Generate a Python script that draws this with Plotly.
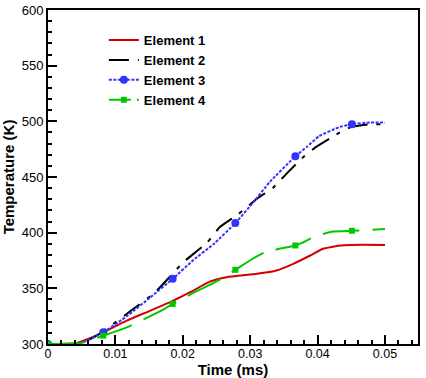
import plotly.graph_objects as go

# ---- data ----
names = ["Element 1", "Element 2", "Element 3", "Element 4"]

x1 = [0, 0.0041, 0.0063, 0.0082, 0.0117, 0.0152, 0.0186, 0.0211, 0.024, 0.0265,
      0.031, 0.0339, 0.0364, 0.0389, 0.0408, 0.0433, 0.045, 0.05]
y1 = [300, 300.6, 305.4, 310.5, 321, 330, 339, 346.5, 356, 360,
      363, 366, 372, 379.5, 385.5, 388.5, 389, 389]

x2 = [0, 0.0045, 0.0065, 0.0087, 0.0122, 0.0159, 0.0201, 0.0236, 0.0255, 0.0282,
      0.031, 0.0334, 0.0354, 0.0379, 0.0398, 0.0418, 0.0433, 0.045, 0.0478, 0.05]
y2 = [300, 300, 305, 313.5, 329.4, 346.5, 373.5, 391, 405, 416.4,
      430.5, 440.4, 453, 468, 477, 484.5, 490, 495, 497.4, 497.4]

x3 = [0, 0.0045, 0.0082, 0.0117, 0.0152, 0.0185, 0.0216, 0.0245, 0.0278, 0.0305,
      0.0329, 0.0367, 0.0384, 0.0402, 0.0433, 0.0451, 0.0478, 0.05]
y3 = [300, 300, 310.5, 325, 342, 358.5, 375.6, 389.4, 408.6, 427.5,
      445.5, 468.6, 477, 486.6, 495, 497.4, 499, 499]
mx3 = [0, 0.0082, 0.0185, 0.0278, 0.0367, 0.0451]
my3 = [300, 310.5, 358.5, 408.6, 468.6, 497.4]

x4 = [0, 0.005, 0.0082, 0.0117, 0.0166, 0.0185, 0.0211, 0.0255, 0.0278, 0.0302,
      0.0322, 0.0367, 0.0376, 0.0396, 0.0423, 0.0451, 0.05]
y4 = [300, 301, 307.5, 315, 329.4, 336, 344.4, 357.9, 366.6, 375.9,
      382.5, 388.5, 390.6, 396.6, 401, 401.7, 403.2]
mx4 = [0, 0.0082, 0.0185, 0.0278, 0.0367, 0.0451]
my4 = [300, 307.5, 336, 366.6, 388.5, 401.7]

x_ticks = [0, 0.01, 0.02, 0.03, 0.04, 0.05]
x_ticktext = ["0", "0.01", "0.02", "0.03", "0.04", "0.05"]
y_ticks = [300, 350, 400, 450, 500, 550, 600]

# ---- styles ----
RED = "#d40000"
BLACK = "#000000"
BLUE = "#3333ff"
GREEN = "#00c800"
FONT = "Liberation Sans, Arial, sans-serif"

dash2 = "20px,9px,4px,9px"
dash3 = "3px,1.5px"
dash4 = "37px,13px"

fig = go.Figure()

fig.add_trace(go.Scatter(x=x1, y=y1, mode="lines", name=f"<b>{names[0]}</b>",
                         line=dict(color=RED, width=2, shape="spline", smoothing=0.4),
                         legendrank=1))
fig.add_trace(go.Scatter(x=x2, y=y2, mode="lines", name=f"<b>{names[1]}</b>",
                         line=dict(color=BLACK, width=2, dash=dash2, shape="spline", smoothing=0.4),
                         legendrank=2))
# blue
fig.add_trace(go.Scatter(x=x3, y=y3, mode="lines", showlegend=False,
                         line=dict(color=BLUE, width=2, dash=dash3, shape="spline", smoothing=0.4)))
fig.add_trace(go.Scatter(x=mx3, y=my3, mode="markers", showlegend=False,
                         marker=dict(color=BLUE, size=8, symbol="circle")))
fig.add_trace(go.Scatter(x=[None], y=[None], mode="lines+markers", name=f"<b>{names[2]}</b>",
                         line=dict(color=BLUE, width=2, dash=dash3),
                         marker=dict(color=BLUE, size=8, symbol="circle"), legendrank=3))
# green
fig.add_trace(go.Scatter(x=x4, y=y4, mode="lines", showlegend=False,
                         line=dict(color=GREEN, width=2, dash=dash4, shape="spline", smoothing=0.4)))
fig.add_trace(go.Scatter(x=mx4, y=my4, mode="markers", showlegend=False,
                         marker=dict(color=GREEN, size=6, symbol="square")))
fig.add_trace(go.Scatter(x=[None], y=[None], mode="lines+markers", name=f"<b>{names[3]}</b>",
                         line=dict(color=GREEN, width=2, dash="22px,6px"),
                         marker=dict(color=GREEN, size=6, symbol="square"), legendrank=4))

axis_common = dict(
    showline=True, linecolor="black", linewidth=2, mirror=True,
    ticks="inside", ticklen=9, tickwidth=2, tickcolor="black",
    showgrid=False, zeroline=False, automargin=False,
)

fig.update_xaxes(
    range=[0, 0.0549], tickmode="array", tickvals=x_ticks, ticktext=x_ticktext,
    ticklabelstandoff=-3,
    tickfont=dict(family=FONT, size=12.5, color="black"),
    minor=dict(ticks="inside", ticklen=4, tickwidth=1.5, tickcolor="black", dtick=0.002, tick0=0),
    title=dict(text="<b>Time (ms)</b>", font=dict(family=FONT, size=15, color="black")),
    **axis_common,
)
fig.update_yaxes(
    range=[300, 600], tickmode="array", tickvals=y_ticks,
    tickfont=dict(family=FONT, size=13, color="black"),
    minor=dict(ticks="inside", ticklen=4, tickwidth=1.5, tickcolor="black", dtick=10, tick0=300),
    title=dict(text="<b>Temperature (K)</b>", font=dict(family=FONT, size=15, color="black")),
    **axis_common,
)

fig.update_layout(
    width=426, height=378, autosize=False,
    margin=dict(l=48, r=8, t=10, b=34),
    plot_bgcolor="white", paper_bgcolor="white",
    font=dict(family=FONT, size=13, color="black"),
    legend=dict(x=0.151, y=0.955, xanchor="left", yanchor="top",
                bgcolor="rgba(0,0,0,0)", font=dict(family=FONT, size=13, color="black"),
                tracegroupgap=0),
    showlegend=True,
)

fig.write_html("out.html", config={"displayModeBar": False},
               post_script="document.body.style.margin='0';document.body.style.overflow='hidden';")
